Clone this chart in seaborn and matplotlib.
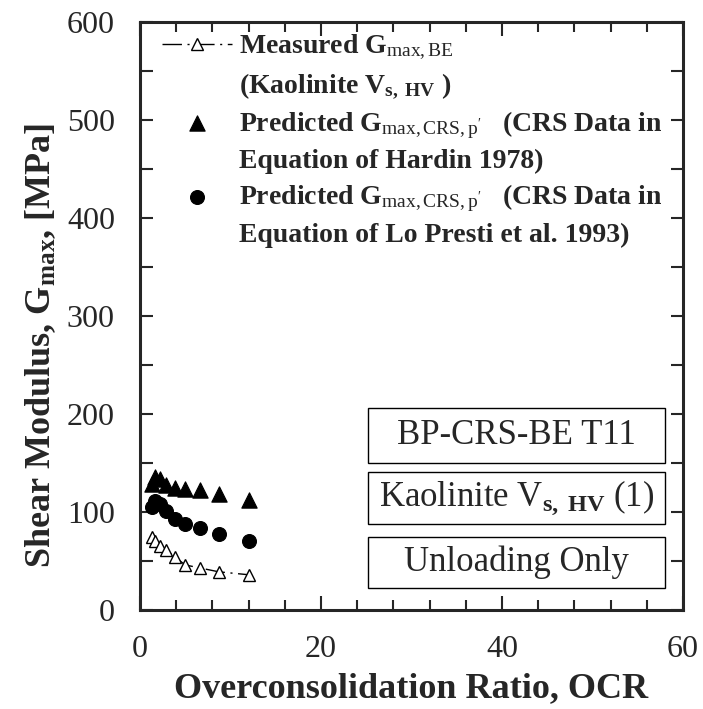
# Shear modulus vs OCR - BP-CRS-BE T11 (unloading)

import matplotlib
matplotlib.use('Agg')
import matplotlib.pyplot as plt
import seaborn as sns
from matplotlib.lines import Line2D
from matplotlib.patches import Rectangle
from matplotlib.ticker import MultipleLocator

# Data
ocr = [1.3, 1.7, 2.2, 2.9, 3.9, 5.0, 6.6, 8.7, 12.0]
g_measured = [75, 70, 65, 61, 54, 46, 43, 39, 36]
g_hardin = [129, 136, 134, 128, 124, 123, 122, 118, 112]
g_lopresti = [105, 111, 108, 101, 93, 88, 84, 78, 70]

# legend text: first line goes with the marker, second line below it
label_measured = ["Measured G$_{\\mathrm{max,BE}}$", "(Kaolinite V$_{\\mathbf{s,\\ HV}}$ )"]
label_hardin = ["Predicted G$_{\\mathrm{max,CRS,p'}}$   (CRS Data in", "Equation of Hardin 1978)"]
label_lopresti = ["Predicted G$_{\\mathrm{max,CRS,p'}}$   (CRS Data in",
                  "Equation of Lo Presti et al. 1993)"]
box_texts = ["BP-CRS-BE T11", "Kaolinite V$_{\\mathbf{s,\\ HV}}$ (1)", "Unloading Only"]

sns.set_style('ticks')
plt.rcParams['font.family'] = ['Liberation Serif', 'DejaVu Serif']
plt.rcParams['mathtext.fontset'] = 'custom'
plt.rcParams['mathtext.rm'] = 'Liberation Serif'
plt.rcParams['mathtext.bf'] = 'Liberation Serif:bold'
plt.rcParams['mathtext.it'] = 'Liberation Serif:italic'

fig = plt.figure(figsize=(7.03, 7.09), dpi=100)
ax = fig.add_axes([0.199, 0.1396, 0.7725, 0.8294])

sns.lineplot(x=ocr, y=g_measured, ax=ax, color='black', lw=1.0,
             linestyle=(0, (14, 4, 1.5, 4)), marker='^', markersize=9,
             markerfacecolor='white', markeredgecolor='black',
             markeredgewidth=1, label=label_measured[0])
sns.scatterplot(x=ocr, y=g_hardin, ax=ax, marker='^', s=120, color='black',
                edgecolor='black', label=label_hardin[0])
sns.scatterplot(x=ocr, y=g_lopresti, ax=ax, marker='o', s=100, color='black',
                edgecolor='black', label=label_lopresti[0])

ax.set_xlim(0, 60)
ax.set_ylim(0, 600)
ax.xaxis.set_major_locator(MultipleLocator(20))
ax.xaxis.set_minor_locator(MultipleLocator(4))
ax.yaxis.set_major_locator(MultipleLocator(100))
ax.yaxis.set_minor_locator(MultipleLocator(50))
ax.tick_params(which='both', direction='in', top=True, right=True,
               width=1.5, labelsize=23, pad=18)
ax.tick_params(axis='x', which='major', length=10)
ax.tick_params(axis='x', which='minor', length=7)
ax.tick_params(axis='y', which='both', length=9)
for sp in ax.spines.values():
    sp.set_linewidth(2.2)

ax.set_xlabel('Overconsolidation Ratio, OCR', fontsize=26, fontweight='bold')
ax.set_ylabel('Shear Modulus, G$_{\\mathbf{max}}$, [MPa]', fontsize=26,
              fontweight='bold')
ax.yaxis.set_label_coords(-0.15, 0.45)
ax.xaxis.set_label_coords(0.5, -0.105)

# rebuild legend so every text line is its own row
handles, _ = ax.get_legend_handles_labels()
blank = Line2D([], [], linestyle='none')
leg_handles, leg_labels = [], []
for h, lab in zip(handles, [label_measured, label_hardin, label_lopresti]):
    leg_handles += [h, blank]
    leg_labels += lab
ax.legend(leg_handles, leg_labels, loc='upper left',
          bbox_to_anchor=(0.021, 1.0), frameon=False,
          prop={'weight': 'bold', 'size': 20}, handlelength=2.5,
          labelspacing=0.3, borderaxespad=0, handletextpad=0.25)

# info boxes (axes fraction)
boxes = [(0.42, 0.2495, 0.547, 0.0935),
         (0.42, 0.1467, 0.547, 0.088),
         (0.42, 0.0367, 0.547, 0.088)]
for (bx, by, bw, bh), txt in zip(boxes, box_texts):
    ax.add_patch(Rectangle((bx, by), bw, bh, transform=ax.transAxes,
                           fill=False, edgecolor='black', lw=1.0))
    ax.text(bx + bw / 2, by + bh / 2, txt, transform=ax.transAxes,
            ha='center', va='center', fontsize=25)

fig.savefig('out.png', dpi=100)
